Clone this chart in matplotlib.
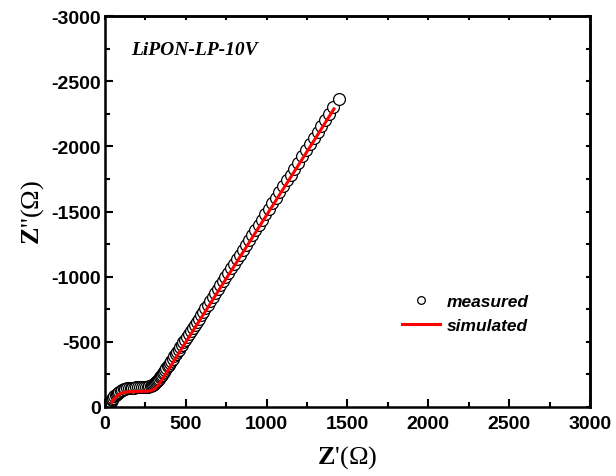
import matplotlib
matplotlib.use("Agg")
import matplotlib.pyplot as plt
from matplotlib.ticker import MultipleLocator

plt.rcParams['mathtext.fontset'] = 'custom'
plt.rcParams['mathtext.rm'] = 'Liberation Serif'
plt.rcParams['mathtext.bf'] = 'Liberation Serif:bold'
plt.rcParams['mathtext.it'] = 'Liberation Serif:italic'
plt.rcParams['axes.unicode_minus'] = False

# measured data (Z', Z'')
meas_x = [20, 24, 28, 32, 36, 41, 46, 52, 58, 65, 72, 80, 88, 97, 106, 116, 126, 137, 148,
          159, 170, 182, 194, 206, 218, 230, 242, 253, 264, 274, 283, 291, 298, 305, 311,
          317, 323, 329, 335, 341, 347, 353, 359, 366, 373, 380, 387, 395, 403, 411, 419,
          428, 437, 446, 455, 465, 475, 485, 496, 507, 518, 530, 542, 554, 567, 580, 593,
          607, 621, 635, 650, 665, 680, 696, 712, 728, 745, 762, 779, 797, 815, 833, 852,
          871, 890, 910, 930, 950, 971, 992, 1013, 1035, 1057, 1079, 1102, 1125, 1148,
          1171, 1195, 1219, 1243, 1267, 1291, 1315, 1339, 1363, 1387, 1411, 1447]
meas_y = [-4, -12, -22, -32, -42, -52, -62, -72, -82, -92, -101, -109, -117, -124, -130,
          -135, -139, -142, -145, -147, -148, -149, -150, -150, -151, -151, -152, -153,
          -155, -158, -162, -167, -172, -178, -185, -192, -200, -209, -218, -228, -238,
          -249, -260, -272, -285, -298, -311, -326, -341, -356, -371, -388, -405, -422,
          -439, -458, -477, -496, -517, -538, -559, -582, -605, -628, -653, -678, -703,
          -730, -757, -784, -813, -842, -871, -902, -933, -964, -997, -1030, -1063, -1098,
          -1133, -1168, -1205, -1242, -1279, -1318, -1357, -1396, -1437, -1478, -1519,
          -1562, -1605, -1648, -1693, -1738, -1783, -1828, -1875, -1922, -1969, -2016,
          -2063, -2110, -2157, -2204, -2251, -2298, -2362]

# simulated data
sim_x = [43, 55, 70, 85, 100, 120, 145, 170, 200, 230, 260, 280, 295, 308, 320, 335, 350,
         370, 400, 450, 500, 600, 700, 800, 900, 1000, 1100, 1200, 1300, 1416]
sim_y = [-38, -62, -82, -96, -105, -112, -116, -118, -119, -120, -121, -124, -130, -140,
         -155, -178, -205, -243, -302, -400, -498, -693, -888, -1083, -1278, -1473, -1668,
         -1863, -2058, -2287]

fig = plt.figure(figsize=(6.16, 4.77), dpi=100)
ax = fig.add_axes([105/616, 1 - 408/477, 485/616, 391/477])

ax.plot(meas_x, meas_y, linestyle='none', marker='o', markersize=8.5,
        markerfacecolor='white', markeredgecolor='black', markeredgewidth=0.9,
        label='measured')
ax.plot(sim_x, sim_y, color='#ff0000', linewidth=2.2, label='simulated')

ax.set_xlim(0, 3000)
ax.set_ylim(0, -3000)
ax.xaxis.set_major_locator(MultipleLocator(500))
ax.xaxis.set_minor_locator(MultipleLocator(250))
ax.yaxis.set_major_locator(MultipleLocator(500))
ax.yaxis.set_minor_locator(MultipleLocator(250))
ax.tick_params(which='both', direction='in', top=False, right=False, width=1.5)
ax.tick_params(which='major', length=6)
ax.tick_params(which='minor', length=3.5)
for s in ax.spines.values():
    s.set_linewidth(1.8)
for lab in ax.get_xticklabels() + ax.get_yticklabels():
    lab.set_fontfamily('Liberation Sans')
    lab.set_fontweight('bold')
    lab.set_fontsize(14)
ax.tick_params(axis='x', pad=6)
ax.tick_params(axis='y', pad=3)

sec_x = ax.secondary_xaxis('top')
sec_x.xaxis.set_major_locator(MultipleLocator(250))
sec_x.tick_params(direction='in', length=3, width=1.5, labeltop=False)
sec_y = ax.secondary_yaxis('right')
sec_y.yaxis.set_major_locator(MultipleLocator(250))
sec_y.tick_params(direction='in', length=3, width=1.5, labelright=False)
for sec in (sec_x, sec_y):
    for s in sec.spines.values():
        s.set_linewidth(1.8)

ax.set_xlabel(r"$\mathbf{Z}$'(Ω)", fontfamily='Liberation Serif', fontsize=19, labelpad=8)
ax.set_ylabel(r"$\mathbf{Z}$''(Ω)", fontfamily='Liberation Serif', fontsize=19, labelpad=4)

ax.text(0.053, 0.915, 'LiPON-LP-10V', transform=ax.transAxes, fontfamily='Liberation Serif',
        fontweight='bold', fontstyle='italic', fontsize=14, va='center', ha='left')

leg = ax.legend(loc='center left', bbox_to_anchor=(0.58, 0.24), frameon=False,
                prop={'family': 'Liberation Sans', 'weight': 'bold', 'style': 'italic', 'size': 12.5},
                handlelength=2.2, handletextpad=0.4, labelspacing=0.5, markerscale=0.65)

fig.savefig('out.png', dpi=100)
